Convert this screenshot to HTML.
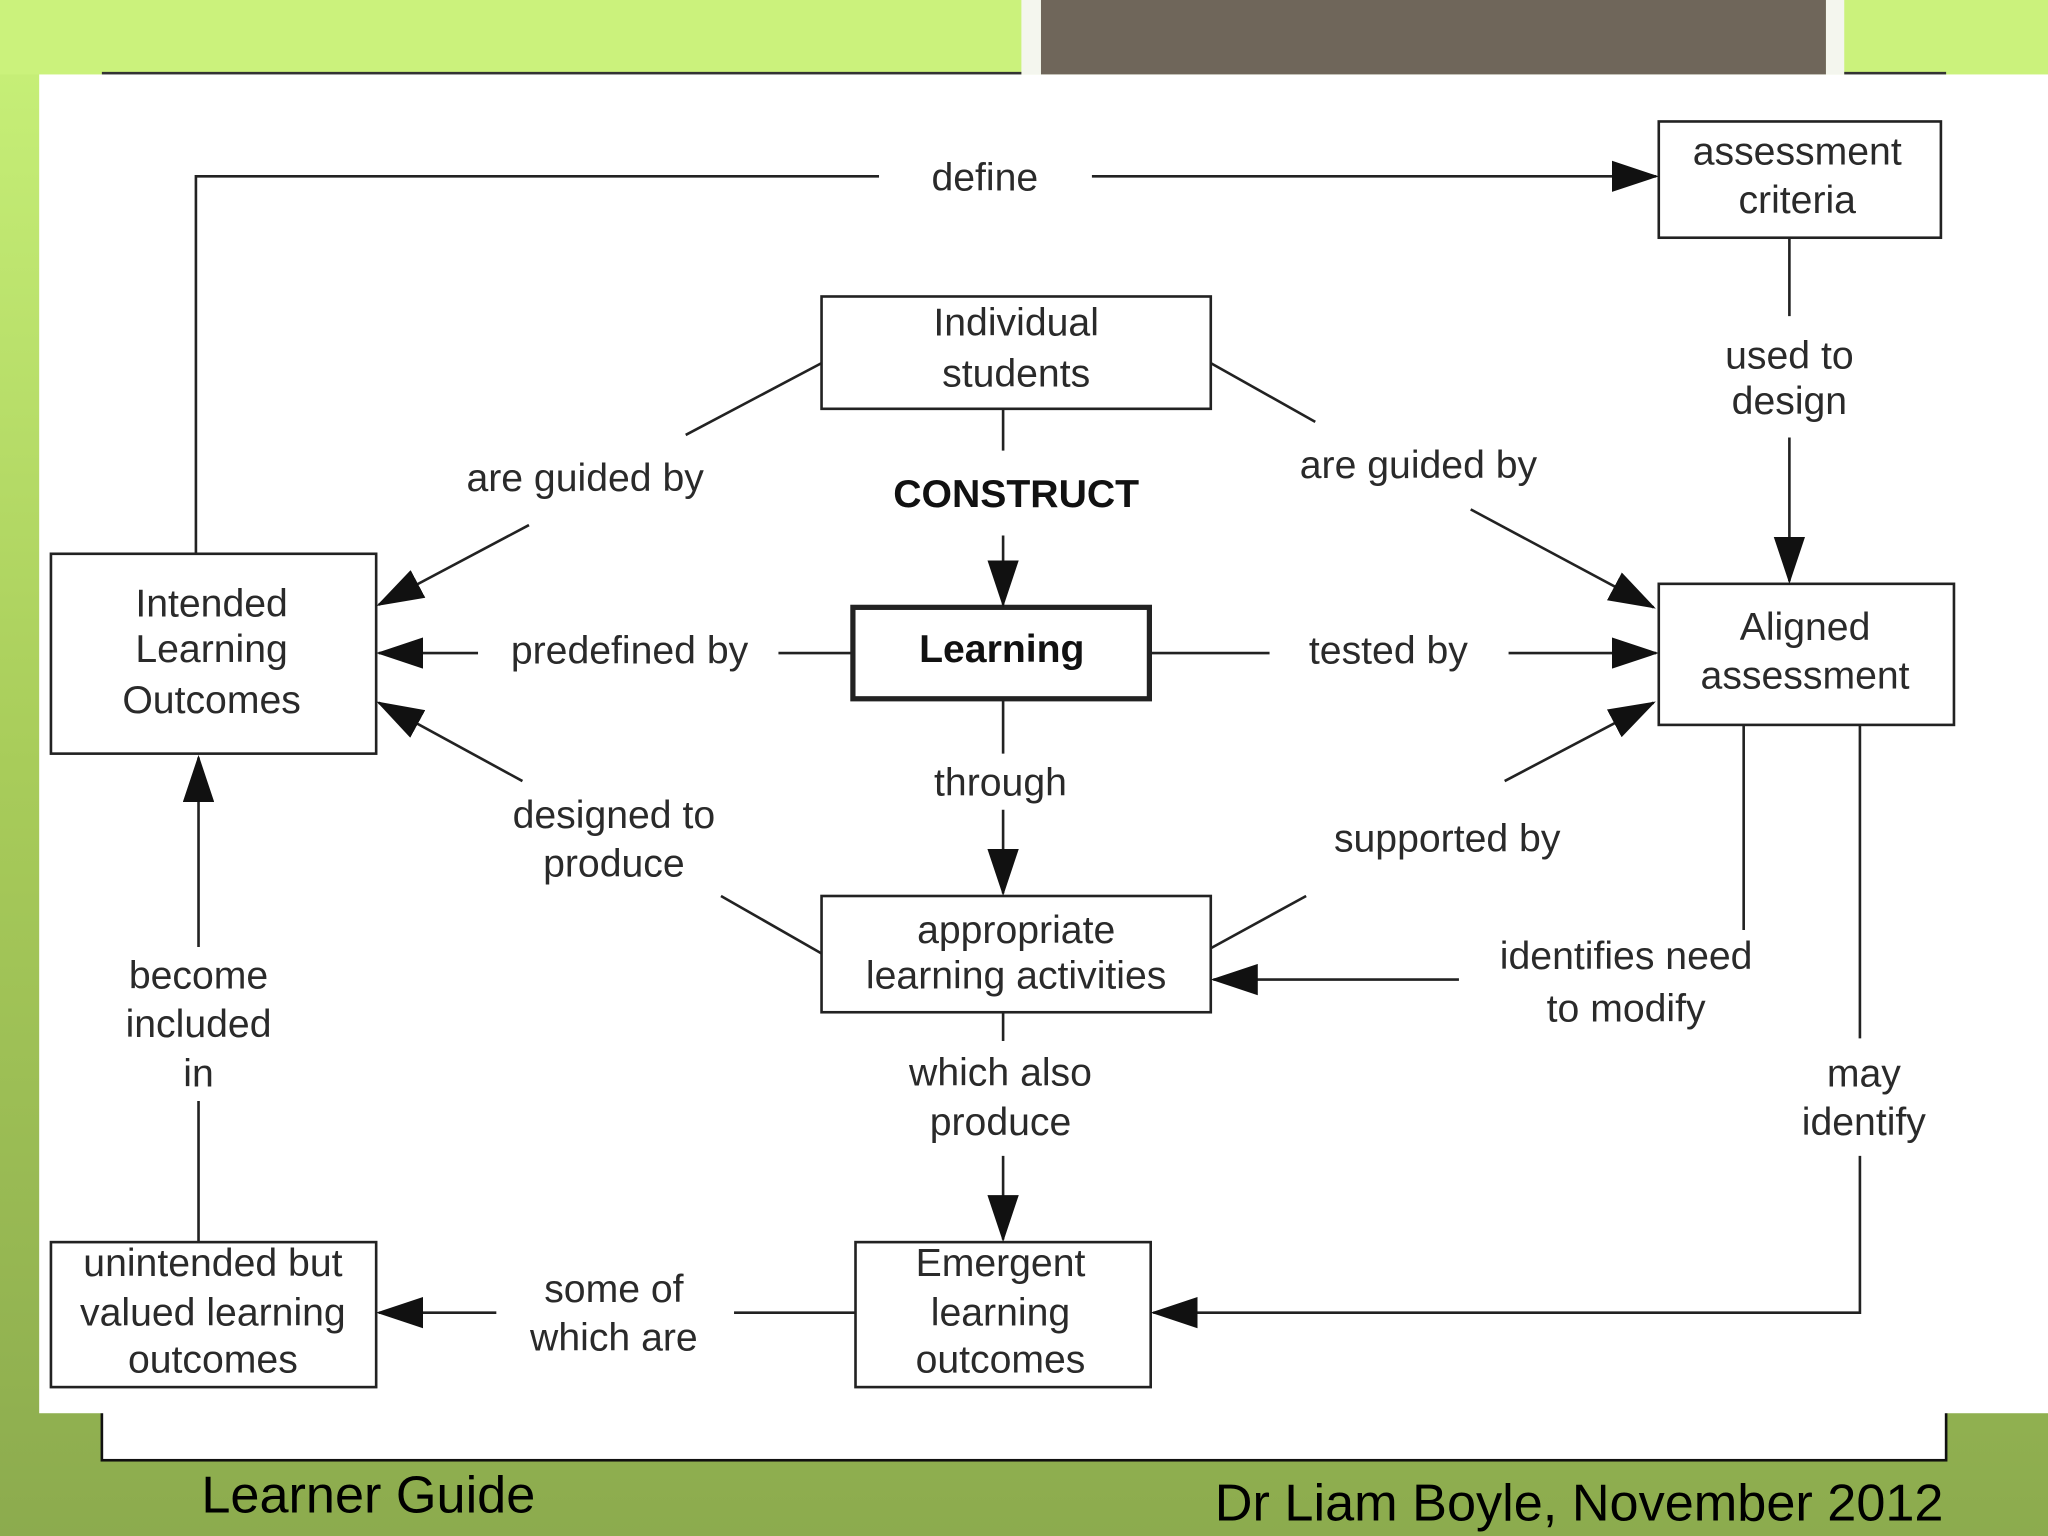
<!DOCTYPE html>
<html><head><meta charset="utf-8"><style>
html,body{margin:0;padding:0;width:2048px;height:1536px;overflow:hidden}
svg{display:block}
text{font-family:"Liberation Sans",sans-serif;fill:#2a2a2a;font-size:30px;text-anchor:middle}
</style></head><body>
<svg width="2048" height="1536" viewBox="0 0 1568 1176" xmlns="http://www.w3.org/2000/svg">
<defs>
<linearGradient id="bg" x1="0" y1="0" x2="0" y2="1">
<stop offset="0" stop-color="#c9f27a"/><stop offset="0.5" stop-color="#a8cc5a"/><stop offset="1" stop-color="#8cab4e"/>
</linearGradient>
<marker id="a" markerWidth="36" markerHeight="24" refX="34" refY="12" orient="auto" markerUnits="userSpaceOnUse">
<path d="M0,0 L36,12 L0,24 Z" fill="#111"/></marker>
</defs>
<rect width="1568" height="1176" fill="url(#bg)"/>
<rect x="0" y="0" width="1568" height="57" fill="#cbf27c"/>
<rect x="782" y="0" width="15" height="57" fill="#f4f6ee"/>
<rect x="797" y="0" width="601" height="57" fill="#6f665a"/>
<rect x="1398" y="0" width="14" height="57" fill="#f4f6ee"/>
<line x1="78" y1="56" x2="782" y2="56" stroke="#333" stroke-width="2"/>
<line x1="1412" y1="56" x2="1490" y2="56" stroke="#333" stroke-width="2"/>
<rect x="78" y="1070" width="1412" height="48" fill="#fff" stroke="#111" stroke-width="2"/>
<rect x="30" y="57" width="1538" height="1025" fill="#fff"/>
<text x="282" y="1158" style="font-size:40px;fill:#000">Learner Guide</text>
<text x="1488" y="1164" style="font-size:40px;fill:#000;text-anchor:end">Dr Liam Boyle, November 2012</text>

<g fill="#fff" stroke="#222" stroke-width="2">
<rect x="1270" y="93" width="216" height="89"/>
<rect x="629" y="227" width="298" height="86"/>
<rect x="39" y="424" width="249" height="153"/>
<rect x="653" y="465" width="227" height="70" stroke-width="4"/>
<rect x="1270" y="447" width="226" height="108"/>
<rect x="629" y="686" width="298" height="89"/>
<rect x="39" y="951" width="249" height="111"/>
<rect x="655" y="951" width="226" height="111"/>
</g>
<g stroke="#222" stroke-width="2" fill="none">
<polyline points="150,424 150,135 673,135"/>
<line x1="836" y1="135" x2="1268" y2="135" marker-end="url(#a)"/>
<line x1="1370" y1="182" x2="1370" y2="242"/>
<line x1="1370" y1="335" x2="1370" y2="445" marker-end="url(#a)"/>
<line x1="629" y1="278" x2="525" y2="333"/>
<line x1="405" y1="402" x2="290" y2="463" marker-end="url(#a)"/>
<line x1="927" y1="278" x2="1007" y2="323"/>
<line x1="1126" y1="390" x2="1266" y2="465" marker-end="url(#a)"/>
<line x1="768" y1="313" x2="768" y2="345"/>
<line x1="768" y1="410" x2="768" y2="463" marker-end="url(#a)"/>
<line x1="653" y1="500" x2="596" y2="500"/>
<line x1="366" y1="500" x2="290" y2="500" marker-end="url(#a)"/>
<line x1="880" y1="500" x2="972" y2="500"/>
<line x1="1155" y1="500" x2="1268" y2="500" marker-end="url(#a)"/>
<line x1="768" y1="535" x2="768" y2="577"/>
<line x1="768" y1="620" x2="768" y2="684" marker-end="url(#a)"/>
<line x1="629" y1="730" x2="552" y2="686"/>
<line x1="400" y1="598" x2="290" y2="538" marker-end="url(#a)"/>
<line x1="927" y1="726" x2="1000" y2="686"/>
<line x1="1152" y1="598" x2="1266" y2="538" marker-end="url(#a)"/>
<line x1="1335" y1="555" x2="1335" y2="712"/>
<line x1="1117" y1="750" x2="929" y2="750" marker-end="url(#a)"/>
<line x1="1424" y1="555" x2="1424" y2="795"/>
<polyline points="1424,885 1424,1005 883,1005" marker-end="url(#a)"/>
<line x1="768" y1="775" x2="768" y2="797"/>
<line x1="768" y1="885" x2="768" y2="949" marker-end="url(#a)"/>
<line x1="655" y1="1005" x2="562" y2="1005"/>
<line x1="380" y1="1005" x2="290" y2="1005" marker-end="url(#a)"/>
<line x1="152" y1="951" x2="152" y2="843"/>
<line x1="152" y1="725" x2="152" y2="580" marker-end="url(#a)"/>
</g>

<text x="1376" y="126">assessment</text><text x="1376" y="163">criteria</text>
<text x="778" y="257">Individual</text><text x="778" y="296">students</text>
<text x="162" y="472">Intended</text><text x="162" y="507">Learning</text><text x="162" y="546">Outcomes</text>
<text x="767" y="507" style="font-weight:bold;fill:#111">Learning</text>
<text x="1382" y="490">Aligned</text><text x="1382" y="527">assessment</text>
<text x="778" y="722">appropriate</text><text x="778" y="757">learning activities</text>
<text x="163" y="977">unintended but</text><text x="163" y="1015">valued learning</text><text x="163" y="1051">outcomes</text>
<text x="766" y="977">Emergent</text><text x="766" y="1015">learning</text><text x="766" y="1051">outcomes</text>

<text x="754" y="146">define</text>
<text x="1370" y="282">used to</text><text x="1370" y="317">design</text>
<text x="448" y="376">are guided by</text>
<text x="1086" y="366">are guided by</text>
<text x="778" y="388" style="font-weight:bold;fill:#111">CONSTRUCT</text>
<text x="482" y="508">predefined by</text>
<text x="1063" y="508">tested by</text>
<text x="766" y="609">through</text>
<text x="470" y="634">designed to</text><text x="470" y="671">produce</text>
<text x="1108" y="652">supported by</text>
<text x="1245" y="742">identifies need</text><text x="1245" y="782">to modify</text>
<text x="1427" y="832">may</text><text x="1427" y="869">identify</text>
<text x="766" y="831">which also</text><text x="766" y="869">produce</text>
<text x="470" y="997">some of</text><text x="470" y="1034">which are</text>
<text x="152" y="757">become</text><text x="152" y="794">included</text><text x="152" y="832">in</text>
</svg>
</body></html>
